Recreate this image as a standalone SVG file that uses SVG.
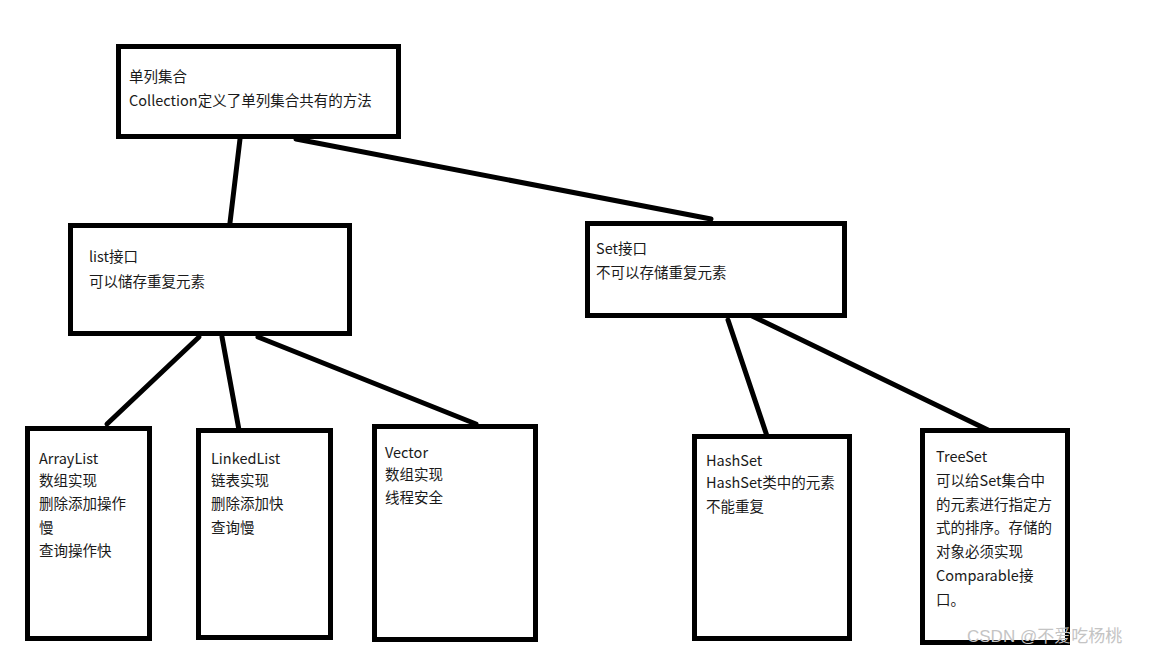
<svg xmlns="http://www.w3.org/2000/svg" width="1152" height="655" viewBox="0 0 1152 655">
<style>
.box{fill:#fff;stroke:#000;stroke-width:5}
.t{font-family:"Noto Sans CJK SC","Liberation Sans",sans-serif;font-size:14.5px;fill:#1a1a1a}
.c{stroke:#000;stroke-width:5;stroke-linecap:round}
.wm{font-family:"Liberation Sans","Noto Sans CJK SC",sans-serif;font-size:17px;fill:#c4c4c4}
</style>
<rect width="1152" height="655" fill="#fff"/>
<g id="connectors">
<line class="c" x1="240" y1="139" x2="229" y2="231"/>
<line class="c" x1="296" y1="139" x2="711" y2="219"/>
<line class="c" x1="199" y1="337" x2="107" y2="424"/>
<line class="c" x1="222" y1="337" x2="239" y2="430"/>
<line class="c" x1="258" y1="337" x2="476" y2="424"/>
<line class="c" x1="728" y1="320" x2="770" y2="445"/>
<line class="c" x1="748" y1="314" x2="988" y2="430"/>
</g>
<g id="collection">
<rect class="box" x="118.5" y="46.5" width="280" height="90"/>
<text class="t" x="129" y="82">单列集合</text>
<text class="t" x="129" y="106">Collection定义了单列集合共有的方法</text>
</g>
<g id="list">
<rect class="box" x="70.5" y="225.5" width="279" height="108"/>
<text class="t" x="89" y="262">list接口</text>
<text class="t" x="89" y="287">可以储存重复元素</text>
</g>
<g id="set">
<rect class="box" x="587.5" y="223.5" width="257" height="92"/>
<text class="t" x="596" y="254">Set接口</text>
<text class="t" x="596" y="278">不可以存储重复元素</text>
</g>
<g id="arraylist">
<rect class="box" x="27.5" y="428.5" width="122" height="210"/>
<text class="t" x="39" y="464">ArrayList</text>
<text class="t" x="39" y="486">数组实现</text>
<text class="t" x="39" y="509">删除添加操作</text>
<text class="t" x="39" y="533">慢</text>
<text class="t" x="39" y="556">查询操作快</text>
</g>
<g id="linkedlist">
<rect class="box" x="198.5" y="430.5" width="132" height="207"/>
<text class="t" x="211" y="464">LinkedList</text>
<text class="t" x="211" y="486">链表实现</text>
<text class="t" x="211" y="509">删除添加快</text>
<text class="t" x="211" y="533">查询慢</text>
</g>
<g id="vector">
<rect class="box" x="374.5" y="426.5" width="161" height="213"/>
<text class="t" x="385" y="458">Vector</text>
<text class="t" x="385" y="480">数组实现</text>
<text class="t" x="385" y="503">线程安全</text>
</g>
<g id="hashset">
<rect class="box" x="694.5" y="436.5" width="155" height="202"/>
<text class="t" x="706" y="466">HashSet</text>
<text class="t" x="706" y="488">HashSet类中的元素</text>
<text class="t" x="706" y="512">不能重复</text>
</g>
<g id="treeset">
<rect class="box" x="922.5" y="430.5" width="145" height="212"/>
<text class="t" x="936" y="462">TreeSet</text>
<text class="t" x="936" y="486">可以给Set集合中</text>
<text class="t" x="936" y="510">的元素进行指定方</text>
<text class="t" x="936" y="533">式的排序。存储的</text>
<text class="t" x="936" y="557">对象必须实现</text>
<text class="t" x="936" y="581">Comparable接</text>
<text class="t" x="936" y="605">口。</text>
</g>
<text class="wm" x="967" y="642">CSDN @不爱吃杨桃</text>
</svg>
